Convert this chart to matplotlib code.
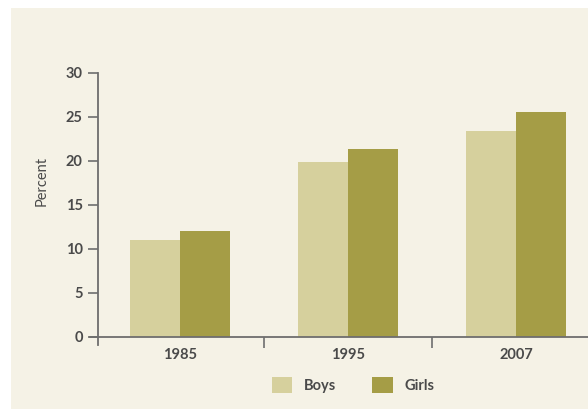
import matplotlib
matplotlib.use("Agg")
import matplotlib.pyplot as plt
from matplotlib.patches import Rectangle
import numpy as np

years = ["1985", "1995", "2007"]
boys = [11.0, 19.9, 23.4]
girls = [12.0, 21.4, 25.6]
yticks = [0, 5, 10, 15, 20, 25, 30]

c_bg = "#f5f2e6"
c_boys = "#d6d09d"
c_girls = "#a59d46"
c_text = "#4a4a4a"
c_axis = "#6e6e6e"

plt.rcParams['font.family'] = ['Lato', 'DejaVu Sans']
fs = 10.5

fig = plt.figure(figsize=(5.88, 4.12), dpi=100)
fig.patch.set_facecolor("white")
fig.patches.append(Rectangle((11/588, 3/412), 1 - 11/588, 401/412,
                             transform=fig.transFigure, facecolor=c_bg,
                             edgecolor="none", zorder=-10))

ax = fig.add_axes([98/588, 75/412, 490/588, 264/412])
ax.set_facecolor("none")

x = np.arange(len(years))
w = 0.3
ax.bar(x - w/2, boys, width=w, color=c_boys, label="Boys", zorder=2)
ax.bar(x + w/2, girls, width=w, color=c_girls, label="Girls", zorder=2)

ax.set_ylim(0, 30)
ax.set_xlim(-82/168, 408/168)

for s in ax.spines.values():
    s.set_visible(False)

ax.plot([0, 0], [1.0, -8/264], transform=ax.transAxes, color=c_axis,
        lw=1.3, clip_on=False, zorder=3)
ax.plot([-8/490, 1.0], [0, 0], transform=ax.transAxes, color=c_axis,
        lw=1.3, clip_on=False, zorder=3)

ax.set_yticks(yticks)
ax.set_yticklabels([str(t) for t in yticks])
ax.tick_params(axis='y', length=7, width=1.2, color=c_axis, labelcolor=c_text,
               labelsize=fs, pad=4)

ax.set_xticks([0.5, 1.5])
ax.set_xticklabels([])
ax.tick_params(axis='x', length=8, width=1.2, color=c_axis, direction='out')
for i, yr in enumerate(years):
    ax.text(i, -18/264 * 30, yr, ha='center', va='center', color=c_text,
            fontsize=fs, fontweight='bold', clip_on=False)

ax.set_ylabel("Percent", color=c_text, fontsize=fs, labelpad=10)
ax.yaxis.set_label_coords(-49/490, 0.59)

for lbl in ax.get_yticklabels():
    lbl.set_fontweight('bold')

leg = fig.legend(loc='center', bbox_to_anchor=(353/588, 1 - 385/412), ncol=2,
                 frameon=False, fontsize=fs, handlelength=1.4, handleheight=1.3,
                 columnspacing=2.5, handletextpad=0.8)
for t in leg.get_texts():
    t.set_color(c_text)
    t.set_fontweight('bold')

fig.savefig("out.png", dpi=100, facecolor=fig.get_facecolor())
